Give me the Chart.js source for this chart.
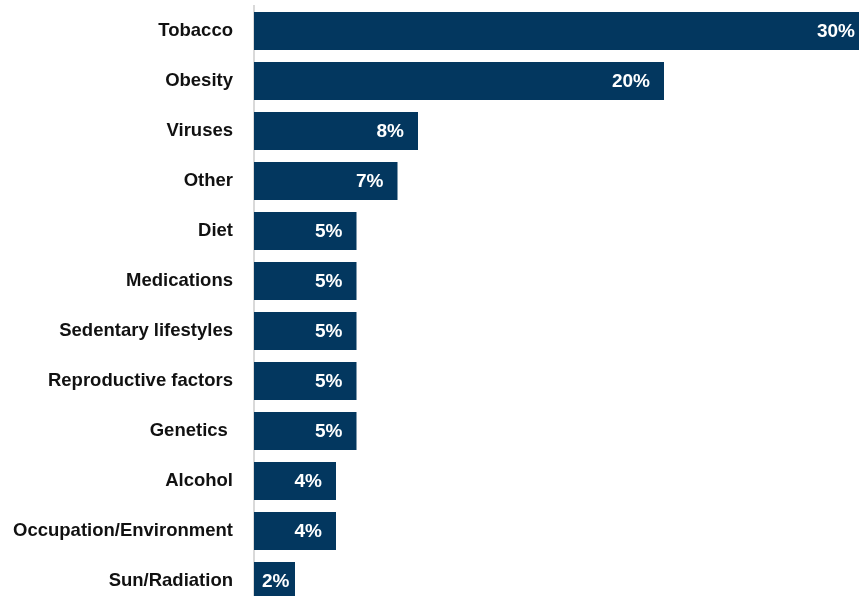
<!DOCTYPE html>
<html>
<head>
<meta charset="utf-8">
<script src="https://cdn.jsdelivr.net/npm/chart.js@4"></script>
<style>
    body { margin: 0; background: #ffffff; }
    #wrap { width: 859px; height: 596px; overflow: hidden; }
</style>
</head>
<body>
<div id="wrap">
    <canvas id="causes" width="877" height="612"></canvas>
</div>
<script>
// Cancer risk factors, share in %
const categories = ["Tobacco", "Obesity", "Viruses", "Other", "Diet", "Medications",
    "Sedentary lifestyles", "Reproductive factors", "Genetics ", "Alcohol",
    "Occupation/Environment", "Sun/Radiation"]
const shares = [30, 20, 8, 7, 5, 5, 5, 5, 5, 4, 4, 2]

const barColor = '#03375f'

// draws the white % labels inside the end of each bar
const barLabels = {
    id: 'barLabels',
    afterDatasetsDraw(chart) {
        const ctx = chart.ctx
        const meta = chart.getDatasetMeta(0)
        ctx.save()
        ctx.fillStyle = '#ffffff'
        ctx.font = 'bold 19px "Liberation Sans", Arial, sans-serif'
        ctx.textAlign = 'right'
        ctx.textBaseline = 'middle'
        meta.data.forEach((bar, i) => {
            const text = shares[i] + '%'
            const w = ctx.measureText(text).width
            // short bars: keep the label inside the bar
            const x = Math.max(bar.x - 14, bar.base + w + 8)
            ctx.fillText(text, x, bar.y + 1)
        })
        ctx.restore()
    }
}

const causesCtx = document.getElementById("causes").getContext("2d")
new Chart(causesCtx, {
    type: 'bar',
    data: {
        labels: categories,
        datasets: [{
            data: shares,
            backgroundColor: barColor,
            borderWidth: 0,
            categoryPercentage: 1,
            barPercentage: 0.76
        }]
    },
    options: {
        indexAxis: 'y',
        responsive: false,
        animation: false,
        layout: {
            padding: { top: 6, bottom: 6, right: 8, left: 0 }
        },
        scales: {
            x: {
                display: false,
                min: 0,
                max: 30
            },
            y: {
                afterFit(scale) {
                    scale.width = 254
                    scale.paddingTop = 0
                    scale.paddingBottom = 0
                },
                grid: {
                    display: false,
                    drawTicks: false
                },
                border: {
                    display: true,
                    color: '#d9d9d9',
                    width: 2
                },
                ticks: {
                    padding: 21,
                    color: '#111111',
                    font: {
                        family: '"Liberation Sans", Arial, sans-serif',
                        size: 18.5,
                        weight: 'bold'
                    }
                }
            }
        },
        plugins: {
            legend: { display: false },
            tooltip: { enabled: false }
        }
    },
    plugins: [barLabels]
});
</script>
</body>
</html>
